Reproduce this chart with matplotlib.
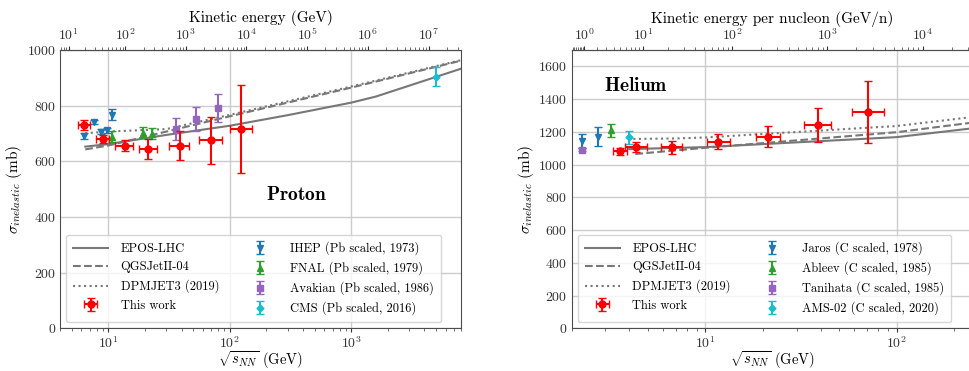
import numpy as np
import matplotlib
matplotlib.use("Agg")
import matplotlib.pyplot as plt
from matplotlib.ticker import NullFormatter, FixedLocator

plt.rcParams['font.family'] = 'serif'
plt.rcParams['font.serif'] = ['cmr10']
plt.rcParams['mathtext.fontset'] = 'cm'
plt.rcParams['axes.formatter.use_mathtext'] = True

# ---------------- Proton data ----------------
p_work_x = [6.27, 8.98, 13.7, 21.3, 38.6, 70.5, 124.5]
p_work_xlo = [5.6, 7.9, 11.3, 17.7, 31.7, 56.0, 101.0]
p_work_xhi = [7.0, 10.2, 15.8, 25.0, 46.4, 86.0, 151.0]
p_work_y = [730, 680, 657, 645, 657, 676, 717]
p_work_yerr = [19, 15, 20, 35, 53, 85, 157]

ihep_x = [6.27, 7.57, 8.71, 9.68, 10.65]
ihep_y = [692, 741, 707, 711, 767]
ihep_err = [10, 8, 10, 10, 20]
fnal_x = [10.65, 19.2, 22.9]
fnal_y = [688, 703, 700]
fnal_err = [20, 20, 20]
avakian_x = [36.1, 52.7, 80.4]
avakian_y = [717, 752, 791]
avakian_err = [39, 42, 50]
cms_x = [5020]
cms_y = [904]
cms_err = [35]

p_epos_x = [6.45, 10, 30, 100, 300, 1000, 1600, 7900]
p_epos_y = [653, 662, 695, 728, 766, 811, 833, 932]
p_qgs_x = [6.45, 10, 30, 100, 1000, 7900]
p_qgs_y = [643, 657, 707, 762, 865, 961]
p_dpm_x = [6.45, 10, 30, 100, 1000, 7900]
p_dpm_y = [701, 707, 716, 767, 869, 963]
p_top_ticks = [1e1, 1e2, 1e3, 1e4, 1e5, 1e6, 1e7]

# ---------------- Helium data ----------------
he_work_x = [3.59, 4.35, 6.68, 11.7, 21.3, 38.8, 70.8]
he_work_xlo = [3.28, 3.81, 5.86, 10.2, 18.3, 32.8, 58.5]
he_work_xhi = [3.89, 4.95, 7.53, 13.4, 24.7, 45.6, 85.5]
he_work_y = [1081, 1108, 1105, 1141, 1171, 1242, 1321]
he_work_yerr = [20, 32, 40, 47, 65, 103, 189]

jaros_x = [2.27, 2.75]
jaros_y = [1145, 1170]
jaros_err = [45, 57]
ableev_x = [3.22]
ableev_y = [1210]
ableev_err = [40]
tanihata_x = [2.25]
tanihata_y = [1091]
tanihata_err = [10]
ams_x = [4.0]
ams_y = [1166]
ams_err = [42]

he_epos_x = [4.0, 10, 100, 250]
he_epos_y = [1095, 1107, 1168, 1222]
he_qgs_x = [4.3, 10, 100, 250]
he_qgs_y = [1065, 1103, 1198, 1257]
he_dpm_x = [4.2, 7, 10, 100, 250]
he_dpm_y = [1157, 1160, 1166, 1236, 1291]
he_top_ticks = [1e0, 1e1, 1e2, 1e3, 1e4]

m_n = 0.938


def sqrts_to_T(x):
    x = np.asarray(x, dtype=float)
    return np.maximum(x**2 / (2 * m_n) - 2 * m_n, 1e-6)


def T_to_sqrts(t):
    t = np.asarray(t, dtype=float)
    return np.sqrt(np.maximum(2 * m_n * (2 * m_n + t), 1e-12))


fig = plt.figure(figsize=(9.7, 3.71), dpi=100)
ax1 = fig.add_axes([0.0619, 0.1146, 0.4134, 0.7507])
ax2 = fig.add_axes([0.5894, 0.1146, 0.4134, 0.7507])

line_c = '#777777'
spine_c = '#4d4d4d'


def draw_panel(ax, models, work, others, xlim, ylim, yticks, top_ticks, toplabel, name, name_pos):
    (ex, ey), (qx, qy), (dx, dy) = models
    ax.plot(ex, ey, '-', color=line_c, lw=1.5, label='EPOS-LHC')
    ax.plot(qx, qy, '--', color=line_c, lw=1.5, label='QGSJetII-04')
    ax.plot(dx, dy, ':', color=line_c, lw=1.5, label='DPMJET3 (2019)')

    wx, wlo, whi, wy, werr = work
    wx = np.array(wx)
    xerr = [wx - np.array(wlo), np.array(whi) - wx]
    ax.errorbar(wx, wy, xerr=xerr, yerr=werr, fmt='o', color='red', ms=5,
                lw=1.5, capsize=3, label='This work', zorder=5)

    for (x, y, e, mk, c, lab) in others:
        ax.errorbar(x, y, yerr=e, fmt=mk, color=c, ms=5 if mk != 'D' else 3.5,
                    lw=1.5, capsize=3, label=lab, zorder=4)

    ax.set_xscale('log')
    ax.set_xlim(*xlim)
    ax.set_ylim(*ylim)
    ax.set_yticks(yticks)
    ax.grid(True, which='major', color='#cccccc', lw=1)
    ax.set_axisbelow(True)
    for s in ax.spines.values():
        s.set_color(spine_c)
    ax.tick_params(axis='x', which='major', length=3, pad=2, labelsize=10,
                   colors='#333333')
    ax.tick_params(axis='x', which='minor', length=2, colors='#555555')
    ax.tick_params(axis='y', length=0, pad=3, labelsize=10, colors='#333333')
    ax.set_xlabel(r'$\sqrt{s_{NN}}$ (GeV)', fontsize=10.5, labelpad=-1)
    ax.set_ylabel(r'$\sigma_{inelastic}$ (mb)', fontsize=11, labelpad=2)

    sec = ax.secondary_xaxis('top', functions=(sqrts_to_T, T_to_sqrts))
    sec.xaxis.set_major_locator(FixedLocator(top_ticks))
    sec.xaxis.set_minor_formatter(NullFormatter())
    sec.set_xlabel(toplabel, fontsize=11, labelpad=3)
    sec.tick_params(which='major', length=3, pad=2, labelsize=10, colors='#333333')
    sec.tick_params(which='minor', length=2, colors='#555555')
    sec.spines['top'].set_color(spine_c)

    ax.text(name_pos[0], name_pos[1], r'$\mathbf{' + name + '}$', transform=ax.transAxes,
            ha='center', va='center', fontsize=14)

    ax.legend(loc='lower left', ncol=2, fontsize=9, columnspacing=1.9,
              handlelength=2.8, handletextpad=1.0, borderpad=0.55,
              labelspacing=0.5)


draw_panel(ax1,
           [(p_epos_x, p_epos_y), (p_qgs_x, p_qgs_y), (p_dpm_x, p_dpm_y)],
           (p_work_x, p_work_xlo, p_work_xhi, p_work_y, p_work_yerr),
           [(ihep_x, ihep_y, ihep_err, 'v', 'tab:blue', 'IHEP (Pb scaled, 1973)'),
            (fnal_x, fnal_y, fnal_err, '^', 'tab:green', 'FNAL (Pb scaled, 1979)'),
            (avakian_x, avakian_y, avakian_err, 's', 'tab:purple', 'Avakian (Pb scaled, 1986)'),
            (cms_x, cms_y, cms_err, 'D', 'tab:cyan', 'CMS (Pb scaled, 2016)')],
           (4, 8000), (0, 1000), np.arange(0, 1001, 200), p_top_ticks,
           'Kinetic energy (GeV)', 'Proton', (0.589, 0.479))

draw_panel(ax2,
           [(he_epos_x, he_epos_y), (he_qgs_x, he_qgs_y), (he_dpm_x, he_dpm_y)],
           (he_work_x, he_work_xlo, he_work_xhi, he_work_y, he_work_yerr),
           [(jaros_x, jaros_y, jaros_err, 'v', 'tab:blue', 'Jaros (C scaled, 1978)'),
            (ableev_x, ableev_y, ableev_err, '^', 'tab:green', 'Ableev (C scaled, 1985)'),
            (tanihata_x, tanihata_y, tanihata_err, 's', 'tab:purple', 'Tanihata (C scaled, 1985)'),
            (ams_x, ams_y, ams_err, 'D', 'tab:cyan', 'AMS-02 (C scaled, 2020)')],
           (2, 250), (0, 1700), np.arange(0, 1601, 200), he_top_ticks,
           'Kinetic energy per nucleon (GeV/n)', 'Helium', (0.16, 0.871))

fig.savefig('out.png', dpi=100)
